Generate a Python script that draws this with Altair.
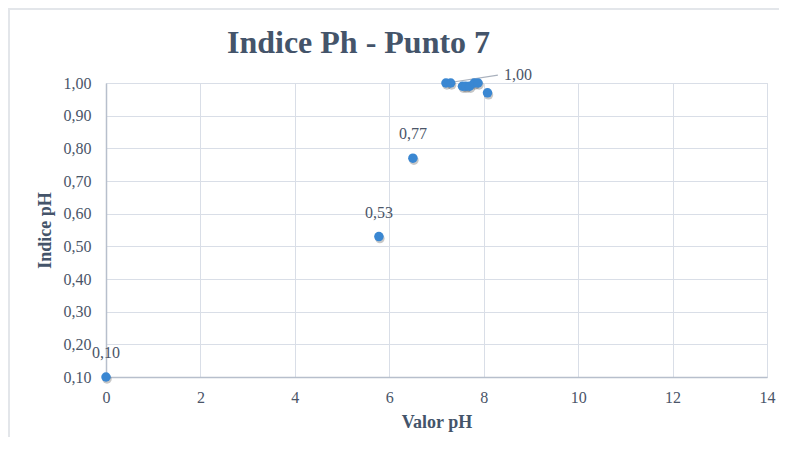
import altair as alt
import pandas as pd

# Data
valor_ph = [0.0, 5.78, 6.50, 7.20, 7.30, 7.55, 7.62, 7.70, 7.80, 7.88, 8.08]
indice_ph = [0.10, 0.53, 0.77, 1.00, 1.00, 0.99, 0.99, 0.99, 1.00, 1.00, 0.97]

label_x = [0.0, 5.78, 6.50]
label_y = [0.10, 0.53, 0.77]
label_txt = ["0,10", "0,53", "0,77"]

callout_x = [7.22, 8.30]
callout_y = [1.00, 1.024]
callout_txt = ["1,00"]

y_ticks = [0.10, 0.20, 0.30, 0.40, 0.50, 0.60, 0.70, 0.80, 0.90, 1.00]
x_ticks = [0, 2, 4, 6, 8, 10, 12, 14]

df = pd.DataFrame({"x": valor_ph, "y": indice_ph})
lab = pd.DataFrame({"x": label_x, "y": label_y, "t": label_txt})
leader = pd.DataFrame({"x": callout_x, "y": callout_y})
callout = pd.DataFrame({"x": [callout_x[1]], "y": [callout_y[1]], "t": callout_txt})

FONT = "Liberation Serif"
TXT = "#4a5568"
GRID = "#d9dee7"
AXIS = "#b7bfcc"

xs = alt.Scale(domain=[0, 14], nice=False)
ys = alt.Scale(domain=[0.10, 1.00], nice=False, zero=False)

xax = alt.Axis(values=x_ticks, tickCount=20, format="d", title="Valor pH", grid=True,
               labelFlush=False, labelOverlap=False,
               gridColor=GRID, domainColor=AXIS, domainWidth=1.5, ticks=False,
               labelFont=FONT, labelFontSize=16, labelColor=TXT, labelPadding=12,
               titleFont=FONT, titleFontSize=18, titleFontWeight="bold",
               titleColor="#44546a", titlePadding=8)
yax = alt.Axis(values=y_ticks, tickCount=20, title="Indice pH", labelFlush=False,
               labelOverlap=False,
               grid=True, gridColor=GRID, domainColor=AXIS, domainWidth=1.5, ticks=False,
               labelExpr="replace(format(datum.value, '.2f'), '.', ',')",
               labelFont=FONT, labelFontSize=16, labelColor=TXT, labelPadding=15,
               titleFont=FONT, titleFontSize=18, titleFontWeight="bold",
               titleColor="#44546a", titlePadding=9)

base = alt.Chart(df)

shadow = base.mark_circle(size=90, color="#000000", opacity=0.22, xOffset=1, yOffset=2,
                          clip=False).encode(
    x=alt.X("x:Q", scale=xs, axis=xax),
    y=alt.Y("y:Q", scale=ys, axis=yax),
)
points = base.mark_circle(size=90, color="#3a87d2", opacity=1, clip=False).encode(
    x=alt.X("x:Q", scale=xs),
    y=alt.Y("y:Q", scale=ys),
)
labels = alt.Chart(lab).mark_text(font=FONT, fontSize=16, color=TXT, dy=-24,
                                  baseline="middle").encode(
    x="x:Q", y="y:Q", text="t:N")
line = alt.Chart(leader).mark_line(color="#a9b1bd", strokeWidth=1.2, clip=False).encode(
    x="x:Q", y="y:Q")
ctext = alt.Chart(callout).mark_text(font=FONT, fontSize=16, color=TXT, align="left",
                                     dx=6, baseline="middle", clip=False).encode(
    x="x:Q", y="y:Q", text="t:N")

# light chart border (decoration)
border_top = alt.Chart(pd.DataFrame({"a": [0]})).mark_rule(color="#e3e6ea", strokeWidth=2).encode(
    x=alt.value(-98), x2=alt.value(681), y=alt.value(-74))
border_left = alt.Chart(pd.DataFrame({"a": [0]})).mark_rule(color="#e3e6ea", strokeWidth=2).encode(
    x=alt.value(-97), y=alt.value(-74), y2=alt.value(380))

chart = alt.layer(border_top, border_left, shadow, line, points, labels, ctext).properties(
    width=661, height=294,
    title=alt.TitleParams("Indice Ph - Punto 7", font=FONT, fontSize=32, fontWeight="bold",
                          color="#44546a", anchor="middle", dx=-78, offset=0, dy=77,
                          baseline="alphabetic"),
    autosize=alt.AutoSizeParams(type="none"),
    padding={"left": 98, "top": 75, "right": 12, "bottom": 60},
).configure_view(stroke=None).configure(background="white")

chart.save("out.html", embed_options={"renderer": "svg", "actions": False})
